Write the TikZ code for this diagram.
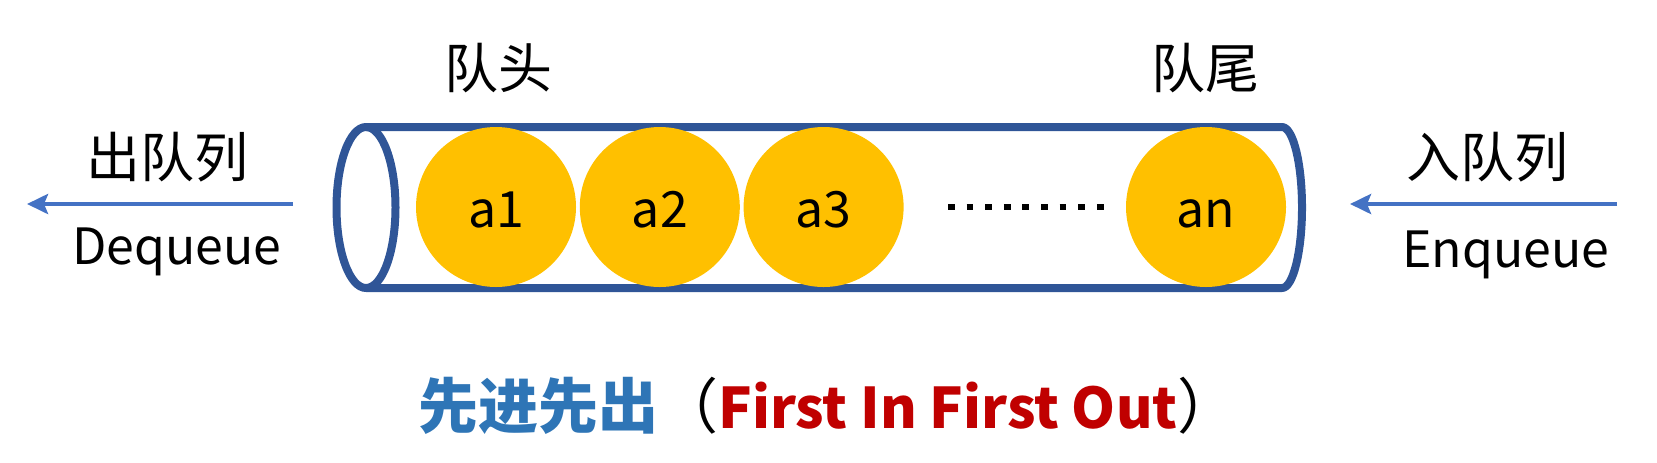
\documentclass[tikz,border=0pt]{standalone}
\usepackage{fontspec}
\setmainfont{Noto Sans CJK SC}
\usepackage{tikz}
\usetikzlibrary{arrows,arrows.meta,positioning,calc}
\definecolor{tubeblue}{HTML}{2F5597}
\definecolor{arrowblue}{HTML}{4472C4}
\definecolor{ballyellow}{HTML}{FFC000}
\definecolor{fifoblue}{HTML}{2E75B6}
\definecolor{fifored}{HTML}{C00000}
\tikzstyle{ball}=[circle,fill=ballyellow,minimum size=80pt,inner sep=0pt,text height=20pt,text depth=0pt,font=\fontsize{25}{30}\selectfont]
\tikzstyle{tube}=[tubeblue,line width=4pt,line join=round]
\tikzstyle{flow}=[arrowblue,line width=2.4pt,-{Stealth[length=10.5pt,width=10pt,inset=2pt]}]
\tikzstyle{cntext}=[inner sep=0pt,font=\fontsize{27}{32}\selectfont]
\tikzstyle{entext}=[inner sep=0pt,font=\fontsize{25}{30}\selectfont]

\begin{document}
\begin{tikzpicture}[x=0.5pt,y=-0.5pt]
\useasboundingbox (0,0) rectangle (1657,462);
% the tube
\draw[tube] (366,127) -- (1282,127)
  arc[start angle=90,end angle=-90,x radius=10pt,y radius=40.25pt] -- (366,288);
\draw[tube] (366,207.5) ellipse [x radius=14.75pt,y radius=40.25pt];
% elements
\node [ball] (a1) at (496,207) {a1};
\node [ball,right=1.5pt of a1] (a2) {a2};
\node [ball,right=1.5pt of a2] (a3) {a3};
\node [ball] (an) at (1206,207) {an};
\draw[line width=3.4pt,dash pattern=on 3.4pt off 5.9pt] (948,207) -- (1105,207);
% head and tail
\node [cntext] (qhead) at (498,68) {队头};
\node [cntext] (qtail) at (1205,68) {队尾};
% dequeue
\coordinate (deq-from) at (293,204);
\coordinate (deq-to) at (27,204);
\draw[flow] (deq-from) -- (deq-to);
\node [cntext] (deqcn) at (167,157) {出队列};
\node [entext,anchor=base] (deqen) at (177,264) {Dequeue};
% enqueue
\coordinate (enq-from) at (1617,204);
\coordinate (enq-to) at (1350,204);
\draw[flow] (enq-from) -- (enq-to);
\node [cntext] (enqcn) at (1487,157) {入队列};
\node [entext,anchor=base] (enqen) at (1506,267) {Enqueue};
% caption
\node [inner sep=0pt,font=\fontsize{30}{36}\selectfont] (fifo) at (828,406)
  {\textcolor{fifoblue}{\bfseries 先进先出}（\textcolor{fifored}{\fontsize{28}{34}\selectfont\bfseries First In First Out}）};
\end{tikzpicture}
\end{document}
